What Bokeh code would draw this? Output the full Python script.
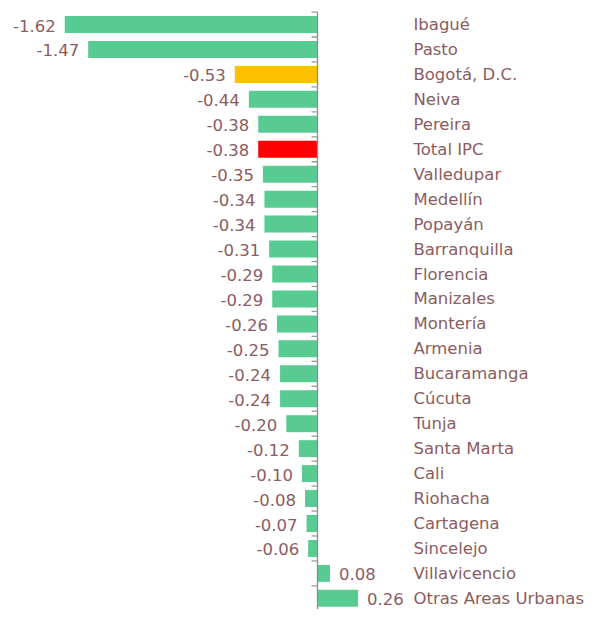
from bokeh.plotting import figure
from bokeh.models import ColumnDataSource, Range1d
from bokeh.core.properties import value
from bokeh.embed import file_html
from bokeh.resources import INLINE

cities = ["Ibagué", "Pasto", "Bogotá, D.C.", "Neiva", "Pereira", "Total IPC",
          "Valledupar", "Medellín", "Popayán", "Barranquilla", "Florencia",
          "Manizales", "Montería", "Armenia", "Bucaramanga", "Cúcuta", "Tunja",
          "Santa Marta", "Cali", "Riohacha", "Cartagena", "Sincelejo",
          "Villavicencio", "Otras Areas Urbanas"]
values = [-1.62, -1.47, -0.53, -0.44, -0.38, -0.38, -0.35, -0.34, -0.34, -0.31,
          -0.29, -0.29, -0.26, -0.25, -0.24, -0.24, -0.20, -0.12, -0.10, -0.08,
          -0.07, -0.06, 0.08, 0.26]

GREEN, YELLOW, RED = "#58CB93", "#FFC000", "#FF0000"
special = {"Bogotá, D.C.": YELLOW, "Total IPC": RED}
colors = [special.get(c, GREEN) for c in cities]
TXT = "#8B5C60"
FONT = "DejaVu Sans"

n = len(cities)
pos = list(range(n))
src = ColumnDataSource(dict(y=pos, v=values, c=colors, city=cities, cx=[0.615] * n))

PX = 156.0  # px per unit
W, H = 603, 609
x0 = -317 / PX
x1 = x0 + W / PX
row = 24.95
ytop = (0 - 24) / row
ybot = ytop + H / row

p = figure(width=W, height=H, output_backend="svg", toolbar_location=None,
           x_range=Range1d(x0, x1), y_range=Range1d(ybot, ytop),
           min_border=0, outline_line_color=None)
p.xaxis.visible = False
p.yaxis.visible = False
p.grid.visible = False
p.background_fill_color = "white"
p.border_fill_color = "white"

p.hbar(y="y", right="v", left=0, height=0.68, fill_color="c", line_color=None, source=src)

# axis line and tick marks between categories
p.segment(x0=[0], y0=[-0.5], x1=[0], y1=[ybot + 1], line_color="#8C8C8C", line_width=1.3)
bounds = [i - 0.5 for i in range(n + 1)]
p.segment(x0=[-6 / PX] * len(bounds), y0=bounds, x1=[0] * len(bounds), y1=bounds,
          line_color="#9A9A9A", line_width=1.3)

# value labels
neg = ColumnDataSource(dict(x=[v for v in values if v < 0], y=[i for i, v in zip(pos, values) if v < 0],
                            t=[f"{v:.2f}" for v in values if v < 0]))
posl = ColumnDataSource(dict(x=[v for v in values if v >= 0], y=[i for i, v in zip(pos, values) if v >= 0],
                             t=[f"{v:.2f}" for v in values if v >= 0]))
p.text(x="x", y="y", text="t", source=neg, x_offset=-9, y_offset=1, text_align="right",
       text_baseline="middle", text_color=TXT, text_font=value(FONT), text_font_size="16.5px")
p.text(x="x", y="y", text="t", source=posl, x_offset=9, y_offset=1, text_align="left",
       text_baseline="middle", text_color=TXT, text_font=value(FONT), text_font_size="16.5px")

# city labels
p.text(x="cx", y="y", text="city", source=src, text_align="left", text_baseline="middle",
       text_color=TXT, text_font=value(FONT), text_font_size="16.5px")

open("out.html", "w").write(file_html(p, INLINE))
